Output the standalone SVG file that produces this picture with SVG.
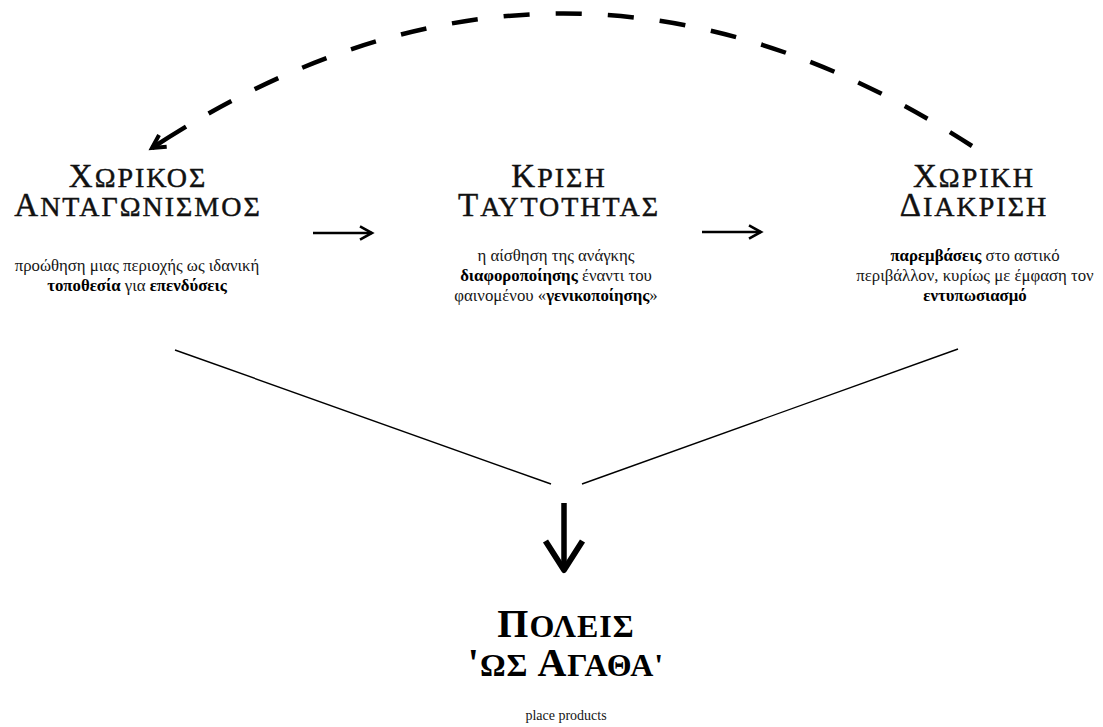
<svg xmlns="http://www.w3.org/2000/svg" width="1103" height="727" viewBox="0 0 1103 727">
<style>
.title{font-family:"Liberation Serif","Times New Roman",serif;fill:#111;stroke:#111;stroke-width:0.45px;text-anchor:middle;letter-spacing:2px}
.big{font-size:33px}
.sc{font-size:28px}
.btitle{font-family:"Liberation Serif","Times New Roman",serif;fill:#000;font-weight:bold;text-anchor:middle;letter-spacing:1px}
.bbig{font-size:40px}
.bsc{font-size:32px}
.body{font-family:"Liberation Serif","Times New Roman",serif;font-size:16.8px;fill:#151515;text-anchor:middle}
.latin{font-family:"Liberation Serif","Times New Roman",serif;font-size:14px;fill:#151515;text-anchor:middle}
.b{font-weight:bold;fill:#000}
.conn{fill:none;stroke:#000}
</style>
<defs>
<marker id="headThin" markerUnits="userSpaceOnUse" markerWidth="30" markerHeight="30" refX="0" refY="0" orient="auto" overflow="visible">
<path d="M-12,-6.7 L0,0 L-12,6.7" fill="none" stroke="#000" stroke-width="2.6" stroke-linejoin="miter"/>
</marker>
<marker id="headDash" markerUnits="userSpaceOnUse" markerWidth="30" markerHeight="30" refX="0" refY="0" orient="auto-start-reverse" overflow="visible">
<path d="M-13,-7 L0,0 L-13,7" fill="none" stroke="#000" stroke-width="4" stroke-linejoin="miter"/>
</marker>
</defs>

<g id="connectors">
<path class="conn" d="M152,148 Q562,-120 972,146" stroke-width="4.5" pathLength="872" stroke-dasharray="40 26 26 26 26 26 26 26 26 26 26 26 26 26 26 26 26 26 26 26 26 26 26 26 26 26 26 26 26 26 26 26 26 100" marker-start="url(#headDash)"/>
<path class="conn" d="M313,233 H372" stroke-width="2.6" marker-end="url(#headThin)"/>
<path class="conn" d="M702,232 H761" stroke-width="2.6" marker-end="url(#headThin)"/>
<path class="conn" d="M175,350 L551,484" stroke-width="1.4"/>
<path class="conn" d="M582,484 L958,349" stroke-width="1.4"/>
<path class="conn" d="M564,503 V567" stroke-width="5.5"/>
<path class="conn" d="M545.5,541 L564,570 L582.5,541" stroke-width="6" stroke-linejoin="round"/>
</g>

<g id="node-competition">
<text class="title" x="138" y="187"><tspan class="big">Χ</tspan><tspan class="sc">ΩΡΙΚΟΣ</tspan></text>
<text class="title" x="138" y="216"><tspan class="big">Α</tspan><tspan class="sc">ΝΤΑΓΩΝΙΣΜΟΣ</tspan></text>
<text class="body" x="137" y="271">προώθηση μιας περιοχής ως ιδανική</text>
<text class="body" x="137" y="291"><tspan class="b">τοποθεσία</tspan> για <tspan class="b">επενδύσεις</tspan></text>
</g>

<g id="node-identity">
<text class="title" x="559" y="187"><tspan class="big">Κ</tspan><tspan class="sc">ΡΙΣΗ</tspan></text>
<text class="title" x="559" y="216"><tspan class="big">Τ</tspan><tspan class="sc">ΑΥΤΟΤΗΤΑΣ</tspan></text>
<text class="body" x="556" y="261">η αίσθηση της ανάγκης</text>
<text class="body" x="556" y="281"><tspan class="b">διαφοροποίησης</tspan> έναντι του</text>
<text class="body" x="556" y="301">φαινομένου «<tspan class="b">γενικοποίησης</tspan>»</text>
</g>

<g id="node-distinction">
<text class="title" x="974" y="187"><tspan class="big">Χ</tspan><tspan class="sc">ΩΡΙΚΗ</tspan></text>
<text class="title" x="974" y="216"><tspan class="big">Δ</tspan><tspan class="sc">ΙΑΚΡΙΣΗ</tspan></text>
<text class="body" x="975" y="261"><tspan class="b">παρεμβάσεις</tspan> στο αστικό</text>
<text class="body" x="975" y="281">περιβάλλον, κυρίως με έμφαση τον</text>
<text class="body" x="975" y="301"><tspan class="b">εντυπωσιασμό</tspan></text>
</g>

<g id="node-cities">
<text class="btitle" x="566" y="637"><tspan class="bbig">Π</tspan><tspan class="bsc">ΟΛΕΙΣ</tspan></text>
<text class="btitle" x="566" y="676"><tspan class="bbig">'</tspan><tspan class="bsc">ΩΣ </tspan><tspan class="bbig">Α</tspan><tspan class="bsc">ΓΑΘΑ'</tspan></text>
<text class="latin" x="566" y="720">place products</text>
</g>
</svg>
